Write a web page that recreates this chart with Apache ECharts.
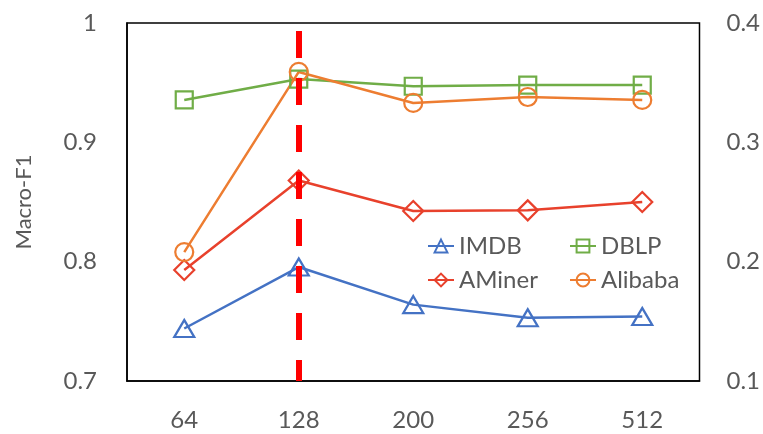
<!DOCTYPE html>
<html>
<head>
<meta charset="utf-8">
<script src="https://cdn.jsdelivr.net/npm/echarts@6/dist/echarts.min.js"></script>
<style>html,body{margin:0;padding:0;background:#fff;}#c{width:763px;height:434px;}</style>
</head>
<body>
<div id="c"></div>
<script>
const categories = ['64', '128', '200', '256', '512'];
const imdb = [0.744, 0.7955, 0.764, 0.753, 0.754];
const dblp = [0.9355, 0.953, 0.947, 0.948, 0.948];
const aminer = [0.793, 0.868, 0.8425, 0.843, 0.850];
const alibaba = [0.808, 0.959, 0.933, 0.938, 0.9355];
const leftTicks = [0.7, 1.0];
const rightTicks = [0.1, 0.4];
const markCategory = '128';

const FONT = 'Lato';
const TXT = '#595959';
const colors = {IMDB:'#4472C4', DBLP:'#70AD47', AMiner:'#E8412C', Alibaba:'#ED7D31'};
const symbols = {IMDB:'triangle', DBLP:'rect', AMiner:'diamond', Alibaba:'circle'};
const sizes = {IMDB:[20,17], DBLP:[17,17], AMiner:[20,20], Alibaba:[18,18]};
const dataMap = {IMDB:imdb, DBLP:dblp, AMiner:aminer, Alibaba:alibaba};

function mk(name){
  const c = colors[name];
  return {
    name, type:'line', data:dataMap[name], yAxisIndex:0,
    symbol:symbols[name], symbolSize:sizes[name], showAllSymbol:true,
    lineStyle:{color:c, width:2.5},
    itemStyle:{color:'rgba(255,255,255,0)', borderColor:c, borderWidth:2.2},
    emphasis:{disabled:true}, animation:false, z:3
  };
}
const series = ['IMDB','DBLP','AMiner','Alibaba'].map(mk);
series[0].markLine = {
  silent:true, symbol:'none', animation:false, z:10,
  label:{show:false},
  lineStyle:{color:'#FF0000', width:6, type:[27,20]},
  data:[[{coord:[markCategory, 0.9933]},{coord:[markCategory, 0.7]}]]
};

const chart = echarts.init(document.getElementById('c'), null, {renderer:'canvas'});
const legendText = {fontFamily:FONT, fontSize:24, color:TXT};
chart.setOption({
  animation:false,
  backgroundColor:'#fff',
  grid:{left:127, right:63, top:23, bottom:53, show:true, borderColor:'#000', borderWidth:1.5, containLabel:false},
  legend:[
    {data:['IMDB','AMiner'], orient:'vertical', left:422, top:229, itemGap:10, itemWidth:26, itemHeight:16, textStyle:legendText, selectedMode:false},
    {data:['DBLP','Alibaba'], orient:'vertical', left:564, top:229, itemGap:10, itemWidth:26, itemHeight:16, textStyle:legendText, selectedMode:false}
  ],
  xAxis:{type:'category', data:categories, boundaryGap:true,
    axisLine:{lineStyle:{color:'#000', width:1.5}}, axisTick:{show:false},
    axisLabel:{fontFamily:FONT, fontSize:24, color:TXT, margin:27}, splitLine:{show:false}},
  yAxis:[
    {type:'value', min:leftTicks[0], max:leftTicks[1], interval:0.1,
     name:'Macro-F1', nameLocation:'middle', nameGap:92, nameRotate:90,
     nameTextStyle:{fontFamily:FONT, fontSize:22, color:TXT},
     axisLine:{show:true, lineStyle:{color:'#000', width:1.5}}, axisTick:{show:false}, splitLine:{show:false},
     axisLabel:{fontFamily:FONT, fontSize:24, color:TXT, margin:30, formatter:v=>String(+v.toFixed(1))}},
    {type:'value', min:rightTicks[0], max:rightTicks[1], interval:0.1, position:'right',
     axisLine:{show:false}, axisTick:{show:false}, splitLine:{show:false},
     axisLabel:{fontFamily:FONT, fontSize:24, color:TXT, margin:27, formatter:v=>String(+v.toFixed(1))}}
  ],
  series
});
</script>
</body>
</html>
